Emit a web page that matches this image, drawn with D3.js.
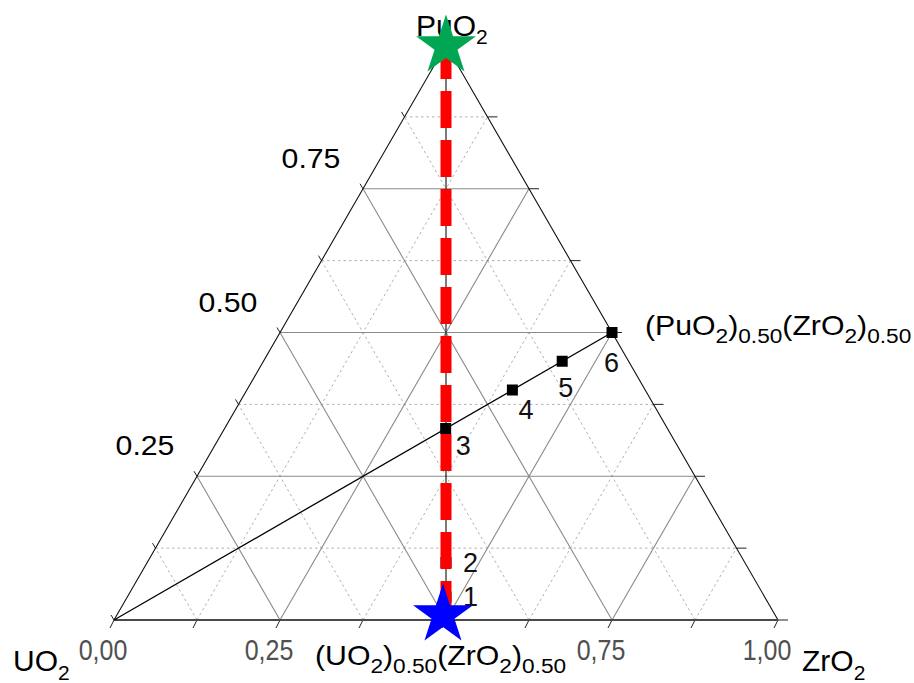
<!DOCTYPE html>
<html><head><meta charset="utf-8">
<script src="https://cdn.jsdelivr.net/npm/d3@7"></script>
<style>body{margin:0;background:#fff}svg{display:block}text{font-family:"Liberation Sans",Arial,sans-serif}</style>
</head><body>
<svg id="c" width="914" height="683"></svg>
<script>
// ---- data ----
const pointLabels = ["1","2","3","4","5","6"];
const uO2Frac  = [0.48, 0.45, 0.334, 0.20, 0.10, 0.00];
const puO2Frac = [0.04, 0.10, 0.333, 0.40, 0.45, 0.50];
const zrO2Frac = [0.48, 0.45, 0.333, 0.40, 0.45, 0.50];
const gridMajor = [0.25, 0.5, 0.75];
const gridMinor = [0.125, 0.375, 0.625, 0.875];
const tickSteps = [0, 0.125, 0.25, 0.375, 0.5, 0.625, 0.75, 0.875, 1];
const bottomTickValues = [0, 0.25, 0.75, 1];
const bottomTickLabels = ["0,00", "0,25", "0,75", "1,00"];
const leftTickValues = [0.25, 0.5, 0.75];
const leftTickLabels = ["0.25", "0.50", "0.75"];
// compositions [UO2, PuO2, ZrO2]
const vertexUO2 = [1, 0, 0], vertexPuO2 = [0, 1, 0], vertexZrO2 = [0, 0, 1];
const midUZr = [0.5, 0, 0.5], midPuZr = [0, 0.5, 0.5];

// ---- layout ----
const labelOffsets = [[17, 9], [17, 9], [10, 26], [6, 29], [-4, 36], [-8, 39]];

const svg = d3.select("#c");
const xs = d3.scaleLinear().domain([0, 1]).range([114, 778]);
const ys = d3.scaleLinear().domain([0, 1]).range([620, 45]);
const P = c => [xs(c[2] + c[1] / 2), ys(c[1])];
const line = d3.line();

const grid = svg.append("g");
function gridLines(vals, cls) {
  vals.forEach(v => {
    const segs = [
      [[1 - v, v, 0], [0, v, 1 - v]],
      [[1 - v, 0, v], [0, 1 - v, v]],
      [[v, 0, 1 - v], [v, 1 - v, 0]]
    ];
    segs.forEach(s => {
      const p = grid.append("path").attr("d", line(s.map(P))).attr("fill", "none");
      if (cls === "major") p.attr("stroke", "#8a8a8a").attr("stroke-width", 1.1);
      else p.attr("stroke", "#b0b0b0").attr("stroke-width", 1).attr("stroke-dasharray", "2.5,3");
    });
  });
}
gridLines(gridMinor, "minor");
gridLines(gridMajor, "major");

// ticks
const tk = svg.append("g").attr("stroke", "#222").attr("stroke-width", 1);
tickSteps.forEach(v => {
  const b = P([1 - v, 0, v]);
  tk.append("line").attr("x1", b[0]).attr("y1", b[1]).attr("x2", b[0] - 4).attr("y2", b[1] + 8);
  const r = P([0, v, 1 - v]);
  tk.append("line").attr("x1", r[0]).attr("y1", r[1]).attr("x2", r[0] + 10).attr("y2", r[1]);
  const l = P([1 - v, v, 0]);
  tk.append("line").attr("x1", l[0]).attr("y1", l[1]).attr("x2", l[0] - 3).attr("y2", l[1] - 5);
});

// triangle
svg.append("path").attr("d", line([vertexUO2, vertexPuO2, vertexZrO2].map(P)))
  .attr("fill", "none").attr("stroke", "#111").attr("stroke-width", 1.1);
svg.append("path").attr("d", line([vertexUO2, vertexZrO2].map(P)))
  .attr("fill", "none").attr("stroke", "#4a4a4a").attr("stroke-width", 2);

// UO2 -> (PuO2)0.5(ZrO2)0.5 line
svg.append("path").attr("d", line([vertexUO2, midPuZr].map(P)))
  .attr("fill", "none").attr("stroke", "#000").attr("stroke-width", 1.3);
svg.append("path").attr("d", line([vertexPuO2, midUZr].map(P)))
  .attr("fill", "none").attr("stroke", "#222").attr("stroke-width", 1.2);

// points
const pts = pointLabels.map((l, i) => ({ l, c: [uO2Frac[i], puO2Frac[i], zrO2Frac[i]], o: labelOffsets[i] }));
svg.append("g").selectAll("rect").data(pts).join("rect")
  .attr("x", d => P(d.c)[0] - 5.5).attr("y", d => P(d.c)[1] - 5.5)
  .attr("width", 11).attr("height", 11).attr("fill", "#000");

// red dashed line
svg.append("path").attr("d", line([vertexPuO2, midUZr].map(P)))
  .attr("fill", "none").attr("stroke", "#ff0000").attr("stroke-width", 11)
  .attr("stroke-dasharray", "37,12").attr("stroke-dashoffset", 3);

// point labels
svg.append("g").selectAll("text").data(pts).join("text")
  .attr("x", d => P(d.c)[0] + d.o[0]).attr("y", d => P(d.c)[1] + d.o[1])
  .attr("font-size", 27).attr("fill", "#111").text(d => d.l);

// bottom tick labels
svg.append("g").selectAll("text").data(bottomTickValues).join("text")
  .attr("transform", v => `translate(${P([1 - v, 0, v])[0] - 11},660) scale(1,1.2)`)
  .attr("text-anchor", "middle").attr("font-size", 25).attr("fill", "#505050")
  .text((v, i) => bottomTickLabels[i]);

// left tick labels
svg.append("g").selectAll("text").data(leftTickValues).join("text")
  .attr("transform", v => { const p = P([1 - v, v, 0]); return `translate(${p[0] - 52},${p[1] - 21}) scale(1.08,1)`; })
  .attr("text-anchor", "middle").attr("font-size", 28).attr("fill", "#000")
  .text((v, i) => leftTickLabels[i]);

// formula labels
function formula(x, y, parts, big, small, sx, dyS) {
  const t = svg.append("text").attr("transform", `translate(${x},${y}) scale(${sx},1)`).attr("fill", "#000");
  let prevSub = false;
  parts.forEach(([s, sub]) => {
    const ts = t.append("tspan").text(s).attr("font-size", sub ? small : big);
    if (sub && !prevSub) ts.attr("dy", dyS);
    if (!sub && prevSub) ts.attr("dy", -dyS);
    prevSub = sub;
  });
}
formula(416, 36, [["PuO", 0], ["2", 1]], 30, 21, 1, 8);
formula(13, 671, [["UO", 0], ["2", 1]], 30, 21, 1, 9);
formula(802, 671, [["ZrO", 0], ["2", 1]], 30, 21, 1, 9);
formula(645, 335, [["(PuO", 0], ["2", 1], [")", 0], ["0.50", 1], ["(ZrO", 0], ["2", 1], [")", 0], ["0.50", 1]], 28, 21, 1.08, 8);
formula(315, 665, [["(UO", 0], ["2", 1], [")", 0], ["0.50", 1], ["(ZrO", 0], ["2", 1], [")", 0], ["0.50", 1]], 28, 21, 1.08, 8);

// stars (on top)
const star = d3.symbol().type(d3.symbolStar).size(1114);
const gp = P(vertexPuO2), bp = P(midUZr);
svg.append("path").attr("d", star()).attr("fill", "#00a651")
  .attr("transform", `translate(${gp[0]},${gp[1] + 1})`);
svg.append("path").attr("d", star()).attr("fill", "#0000ff")
  .attr("transform", `translate(${bp[0] - 3},${bp[1] - 5})`);
</script>
</body></html>
